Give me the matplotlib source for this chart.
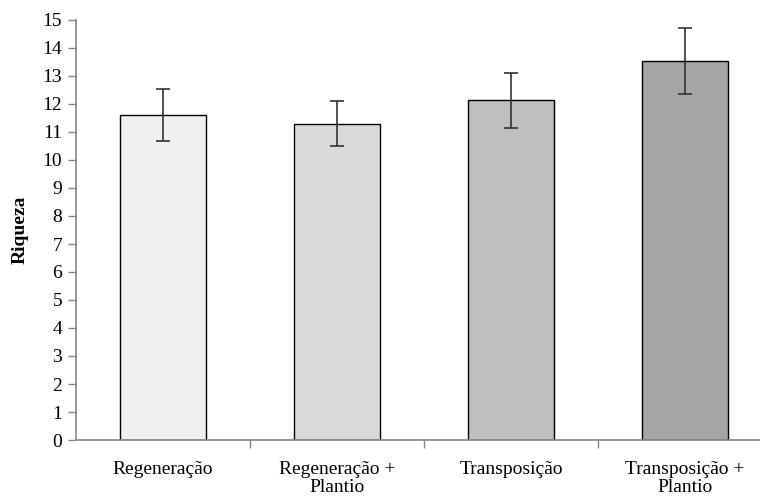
import matplotlib
matplotlib.use("Agg")
import matplotlib.pyplot as plt
import numpy as np

categories = ["Regeneração", "Regeneração +\nPlantio", "Transposição", "Transposição +\nPlantio"]
means = [11.6, 11.3, 12.13, 13.52]
errors = [0.93, 0.79, 0.99, 1.18]
colors = ["#f0f0f0", "#d9d9d9", "#bfbfbf", "#a5a5a5"]
yticks = list(range(0, 16))

plt.rcParams['font.family'] = ['Liberation Serif', 'DejaVu Serif']

fig = plt.figure(figsize=(7.6, 4.98), dpi=100)
ax = fig.add_axes([76/760, (498-440)/498, (772-76)/760, 420/498])

x = np.arange(len(categories))
ax.bar(x, means, width=0.49, color=colors, edgecolor="black", linewidth=1.0, zorder=2)
ax.errorbar(x, means, yerr=errors, fmt="none", ecolor="#333333", elinewidth=1.2,
            capsize=5, capthick=1.2, zorder=3)

ax.set_xlim(-0.5, len(categories) - 0.5)
ax.set_ylim(0, 15)
ax.set_yticks(yticks)
ax.set_yticklabels([str(t) for t in yticks], fontsize=14)
ax.set_xticks(x)
ax.set_xticklabels(categories, fontsize=14, linespacing=1.1)
ax.tick_params(axis="x", length=0, pad=15)
ax.set_xticks(np.arange(0.5, len(categories) - 0.5, 1), minor=True)
ax.tick_params(axis="x", which="minor", length=6, color="#868686", width=1)
ax.tick_params(axis="y", length=6, color="#868686", width=1, pad=4)

for s in ["top", "right"]:
    ax.spines[s].set_visible(False)
for s in ["left", "bottom"]:
    ax.spines[s].set_color("#868686")
    ax.spines[s].set_linewidth(1.2)

ax.set_ylabel("Riqueza", fontsize=14, fontweight="bold", labelpad=10)

fig.savefig("out.png", dpi=100)
